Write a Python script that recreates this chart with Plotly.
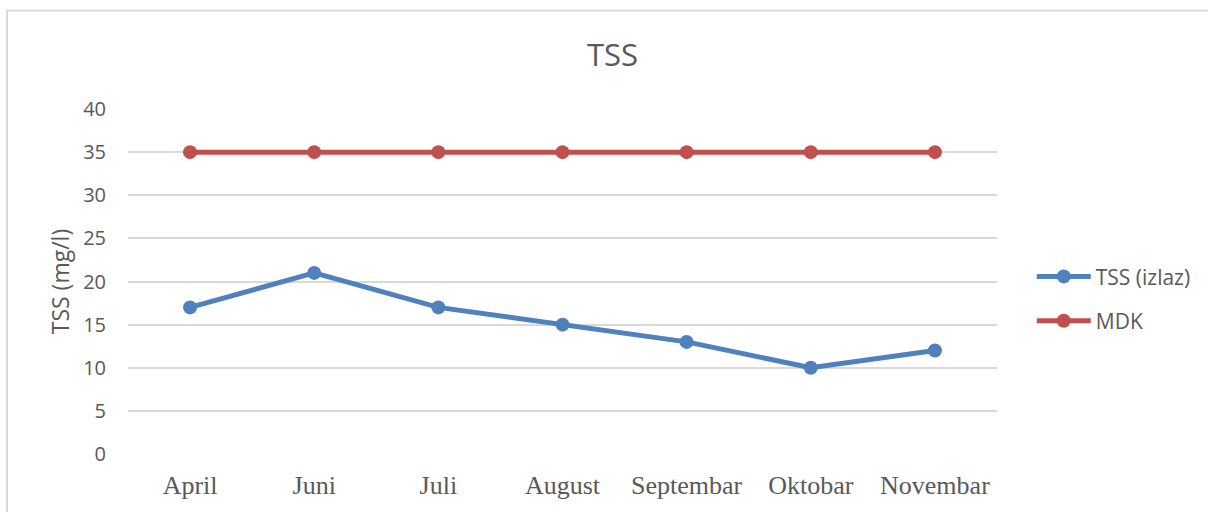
import plotly.graph_objects as go

months = ["April", "Juni", "Juli", "August", "Septembar", "Oktobar", "Novembar"]
tss_izlaz = [17, 21, 17, 15, 13, 10, 12]
mdk = [35, 35, 35, 35, 35, 35, 35]
y_ticks = [0, 5, 10, 15, 20, 25, 30, 35, 40]

BLUE = "#4F81BD"
RED = "#C0504D"
TEXT = "#595959"

fig = go.Figure()
fig.add_trace(go.Scatter(x=months, y=tss_izlaz, name="TSS (izlaz)", mode="lines+markers",
                         legendgroup="a",
                         line=dict(color=BLUE, width=5), marker=dict(size=14, color=BLUE)))
fig.add_trace(go.Scatter(x=months, y=mdk, name="MDK", mode="lines+markers",
                         legendgroup="b",
                         line=dict(color=RED, width=5), marker=dict(size=14, color=RED)))

fig.update_layout(
    width=1208, height=512,
    margin=dict(l=128, r=211, t=109, b=56),
    paper_bgcolor="white", plot_bgcolor="white",
    title=dict(text="TSS", x=0.507, xanchor="center", y=0.893, yanchor="middle",
               font=dict(family="Open Sans", size=31, color=TEXT)),
    xaxis=dict(type="category", range=[-0.5, 6.5], showgrid=False, showline=False, zeroline=False,
               ticks="", ticklabelstandoff=13,
               tickfont=dict(family="Liberation Serif", size=26, color=TEXT)),
    yaxis=dict(range=[0, 40], tickvals=y_ticks, showgrid=True, gridcolor="#D9D9D9", gridwidth=1.5,
               zeroline=False, showline=False, ticks="", ticklabelstandoff=21,
               tickfont=dict(family="Open Sans", size=20, color=TEXT),
               title=dict(text="TSS (mg/l)", standoff=7,
                          font=dict(family="Open Sans", size=23, color=TEXT))),
    legend=dict(x=1.040, y=0.45, xanchor="left", yanchor="middle",
                font=dict(family="Open Sans", size=21, color=TEXT),
                traceorder="grouped", tracegroupgap=14, itemwidth=54,
                bgcolor="rgba(0,0,0,0)"),
    shapes=[dict(type="rect", xref="paper", yref="paper",
                 x0=(7 - 128) / 869, x1=(1215 - 128) / 869,
                 y0=(456 - 520) / 347, y1=(456 - 10) / 347,
                 line=dict(color="#D9D9D9", width=2), fillcolor="rgba(0,0,0,0)", layer="below")],
)

fig.write_html("out.html", config={"displayModeBar": False},
               post_script="document.body.style.margin='0px';")
